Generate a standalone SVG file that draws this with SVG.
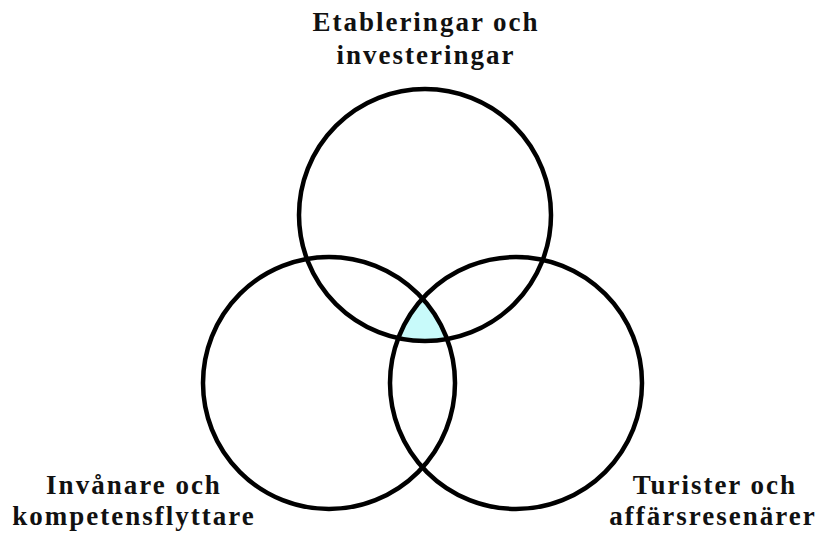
<svg xmlns="http://www.w3.org/2000/svg" width="817" height="534" viewBox="0 0 817 534">
<style>
text{font-family:"Liberation Serif","Times New Roman",serif;font-weight:bold;font-size:27px;letter-spacing:2px;fill:#111;text-anchor:middle}
.c{fill:none;stroke:#000;stroke-width:4.5}
</style>
<defs>
<clipPath id="cl"><circle cx="329" cy="383" r="126"/></clipPath>
<clipPath id="cr"><circle cx="516" cy="383" r="126"/></clipPath>
</defs>
<g id="center-fill" clip-path="url(#cl)"><g clip-path="url(#cr)"><circle cx="425" cy="215" r="126" fill="#c8fafa"/></g></g>
<g id="top"><circle class="c" cx="425" cy="215" r="126"/><text x="426" y="31">Etableringar och</text><text x="426" y="64">investeringar</text></g>
<g id="left"><circle class="c" cx="329" cy="383" r="126"/><text x="134" y="494">Invånare och</text><text x="134" y="525">kompetensflyttare</text></g>
<g id="right"><circle class="c" cx="516" cy="383" r="126"/><text x="715" y="494">Turister och</text><text x="713" y="525">affärsresenärer</text></g>
<g id="connectors"/>
</svg>
